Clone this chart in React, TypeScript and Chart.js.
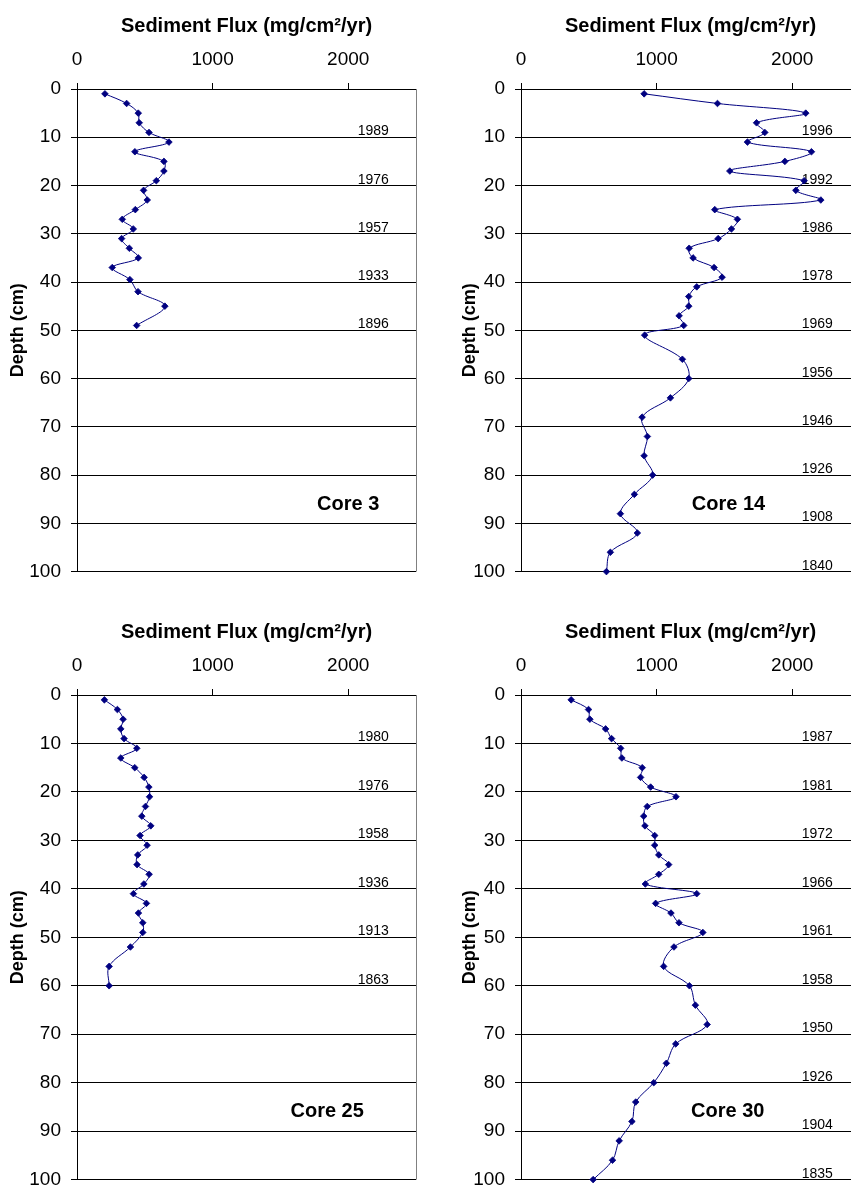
import React, { useEffect, useRef } from 'react';
import { Chart, registerables } from 'chart.js';

Chart.register(...registerables);

const FONT = '"Liberation Sans", Arial, Helvetica, sans-serif';

// ---------- data ----------
const fluxTicks = [0, 1000, 2000];
const depthTicks = [0, 10, 20, 30, 40, 50, 60, 70, 80, 90, 100];

const core3Depth = [1, 3, 5, 7, 9, 11, 13, 15, 17, 19, 21, 23, 25, 27, 29, 31, 33, 35, 37, 39.5, 42, 45, 49];
const core3Flux = [206, 366, 452, 459, 531, 678, 427, 641, 641, 585, 491, 518, 430, 334, 415, 329, 386, 452, 260, 390, 450, 648, 440];
const core3Years = ['1989', '1976', '1957', '1933', '1896'];
const core3YearDepths = [10, 20, 30, 40, 50];

const core14Depth = [1, 3, 5, 7, 9, 11, 13, 15, 17, 19, 21, 23, 25, 27, 29, 31, 33, 35, 37, 39, 41, 43, 45, 47, 49, 51, 56, 60, 64, 68, 72, 76, 80, 84, 88, 92, 96, 100];
const core14Flux = [908, 1449, 2100, 1737, 1798, 1670, 2142, 1946, 1540, 2088, 2027, 2211, 1429, 1596, 1552, 1454, 1240, 1269, 1424, 1483, 1296, 1237, 1237, 1166, 1200, 912, 1190, 1237, 1102, 893, 932, 908, 971, 836, 733, 858, 659, 630];
const core14Years = ['1996', '1992', '1986', '1978', '1969', '1956', '1946', '1926', '1908', '1840'];
const core14YearDepths = [10, 20, 30, 40, 50, 60, 70, 80, 90, 100];

const core25Depth = [1, 3, 5, 7, 9, 11, 13, 15, 17, 19, 21, 23, 25, 27, 29, 31, 33, 35, 37, 39, 41, 43, 45, 47, 49, 52, 56, 60];
const core25Flux = [202, 298, 340, 323, 347, 441, 323, 426, 495, 530, 535, 505, 478, 544, 465, 517, 448, 443, 532, 493, 416, 512, 453, 485, 485, 394, 237, 237];
const core25Years = ['1980', '1976', '1958', '1936', '1913', '1863'];
const core25YearDepths = [10, 20, 30, 40, 50, 60];

const core30Depth = [1, 3, 5, 7, 9, 11, 13, 15, 17, 19, 21, 23, 25, 27, 29, 31, 33, 35, 37, 39, 41, 43, 45, 47, 49, 52, 56, 60, 64, 68, 72, 76, 80, 84, 88, 92, 96, 100];
const core30Flux = [370, 498, 508, 624, 668, 735, 744, 894, 882, 956, 1143, 931, 905, 914, 986, 986, 1016, 1089, 1016, 917, 1296, 993, 1106, 1165, 1341, 1128, 1052, 1242, 1286, 1373, 1141, 1072, 979, 846, 818, 724, 675, 532];
const core30Years = ['1987', '1981', '1972', '1966', '1961', '1958', '1950', '1926', '1904', '1835'];
const core30YearDepths = [10, 20, 30, 40, 50, 60, 70, 80, 90, 100];

const YEAR_LABEL_FLUX = 2070;
const CORE_LABEL_DEPTH = 86;

// ---------- panel ----------
type PanelProps = {
  name: string;
  depth: number[];
  flux: number[];
  years: string[];
  yearDepths: number[];
  labelFlux: number;
  left: number;
  top: number;
  plotH: number;
  yTitlePad: number;
  rightBorder: boolean;
};

const W = 430;
const AXIS_W = 77;
const AXIS_H = 89;
const PLOT_W = 339;

function Panel(p: PanelProps) {
  const ref = useRef<HTMLCanvasElement | null>(null);
  const H = AXIS_H + p.plotH + 20;

  useEffect(() => {
    if (!ref.current) return;
    const annot = {
      id: 'annot',
      beforeDatasetsDraw(chart: any) {
        const { ctx, chartArea, scales } = chart;
        const x = scales.x;
        const y = scales.y;
        ctx.save();
        if (p.rightBorder) {
          ctx.strokeStyle = '#808080';
          ctx.lineWidth = 1;
          ctx.beginPath();
          const rx = Math.round(chartArea.right) + 0.5;
          ctx.moveTo(rx, chartArea.top);
          ctx.lineTo(rx, chartArea.bottom);
          ctx.stroke();
        }
        ctx.fillStyle = '#000';
        ctx.font = `14px ${FONT}`;
        ctx.textAlign = 'left';
        ctx.textBaseline = 'alphabetic';
        p.years.forEach((t, i) => {
          ctx.fillText(t, x.getPixelForValue(YEAR_LABEL_FLUX), y.getPixelForValue(p.yearDepths[i]) - 2);
        });
        ctx.font = `bold 20px ${FONT}`;
        ctx.textAlign = 'center';
        ctx.textBaseline = 'middle';
        ctx.fillText(p.name, x.getPixelForValue(p.labelFlux), y.getPixelForValue(CORE_LABEL_DEPTH));
        ctx.restore();
      },
    };

    const chart = new Chart(ref.current, {
      type: 'scatter',
      data: {
        datasets: [
          {
            data: p.depth.map((d, i) => ({ x: p.flux[i], y: d })),
            showLine: true,
            borderColor: '#000080',
            backgroundColor: '#000080',
            borderWidth: 1,
            tension: 0.35,
            pointStyle: 'rectRot',
            pointRadius: 3.3,
            pointBackgroundColor: '#000080',
            pointBorderColor: '#000080',
            pointBorderWidth: 0.8,
            clip: false,
          } as any,
        ],
      },
      options: {
        animation: false,
        responsive: false,
        layout: { padding: { left: 0, top: 0, right: W - AXIS_W - PLOT_W, bottom: H - AXIS_H - p.plotH } },
        plugins: { legend: { display: false }, tooltip: { enabled: false } },
        scales: {
          x: {
            type: 'linear',
            position: 'top',
            min: 0,
            max: 2500,
            afterBuildTicks: (s: any) => {
              s.ticks = fluxTicks.map((v) => ({ value: v }));
            },
            afterFit: (s: any) => {
              s.height = AXIS_H;
            },
            grid: { drawOnChartArea: false, drawTicks: true, tickLength: 6, color: '#000', lineWidth: 1 },
            border: { display: true, color: '#000', width: 1 },
            ticks: {
              font: { family: FONT, size: 19 },
              color: '#000',
              padding: 12,
              maxRotation: 0,
              autoSkip: false,
              callback: (v: any) => String(v),
            },
            title: {
              display: true,
              text: 'Sediment Flux (mg/cm²/yr)',
              font: { family: FONT, size: 20, weight: 'bold' },
              color: '#000',
              padding: { top: 14, bottom: 0 },
            },
          },
          y: {
            type: 'linear',
            reverse: true,
            min: 0,
            max: 100,
            afterBuildTicks: (s: any) => {
              s.ticks = depthTicks.map((v) => ({ value: v }));
            },
            afterFit: (s: any) => {
              s.width = AXIS_W;
            },
            grid: { color: '#000', lineWidth: 1, tickLength: 6, drawTicks: true },
            border: { display: true, color: '#000', width: 1 },
            ticks: {
              font: { family: FONT, size: 19 },
              color: '#000',
              padding: 10,
              autoSkip: false,
              callback: (v: any) => String(v),
            },
            title: {
              display: true,
              text: 'Depth (cm)',
              font: { family: FONT, size: 18, weight: 'bold' },
              color: '#000',
              padding: { top: p.yTitlePad, bottom: 0 },
            },
          },
        },
      } as any,
      plugins: [annot],
    });
    return () => chart.destroy();
  }, []);

  return (
    <div style={{ position: 'absolute', left: p.left, top: p.top, width: W, height: H }}>
      <canvas ref={ref} width={W} height={H} style={{ display: 'block', width: W, height: H }} />
    </div>
  );
}

export default function App() {
  return (
    <div
      style={{
        position: 'absolute',
        left: 0,
        top: 0,
        width: 851,
        height: 1186,
        overflow: 'hidden',
        background: '#fff',
      }}
    >
      <Panel name="Core 3" depth={core3Depth} flux={core3Flux} years={core3Years} yearDepths={core3YearDepths}
        labelFlux={2000} left={0} top={0} plotH={484} yTitlePad={7} rightBorder={true} />
      <Panel name="Core 14" depth={core14Depth} flux={core14Flux} years={core14Years} yearDepths={core14YearDepths}
        labelFlux={1530} left={444} top={0} plotH={484} yTitlePad={15} rightBorder={false} />
      <Panel name="Core 25" depth={core25Depth} flux={core25Flux} years={core25Years} yearDepths={core25YearDepths}
        labelFlux={1845} left={0} top={606} plotH={486} yTitlePad={7} rightBorder={true} />
      <Panel name="Core 30" depth={core30Depth} flux={core30Flux} years={core30Years} yearDepths={core30YearDepths}
        labelFlux={1525} left={444} top={606} plotH={486} yTitlePad={15} rightBorder={false} />
    </div>
  );
}
